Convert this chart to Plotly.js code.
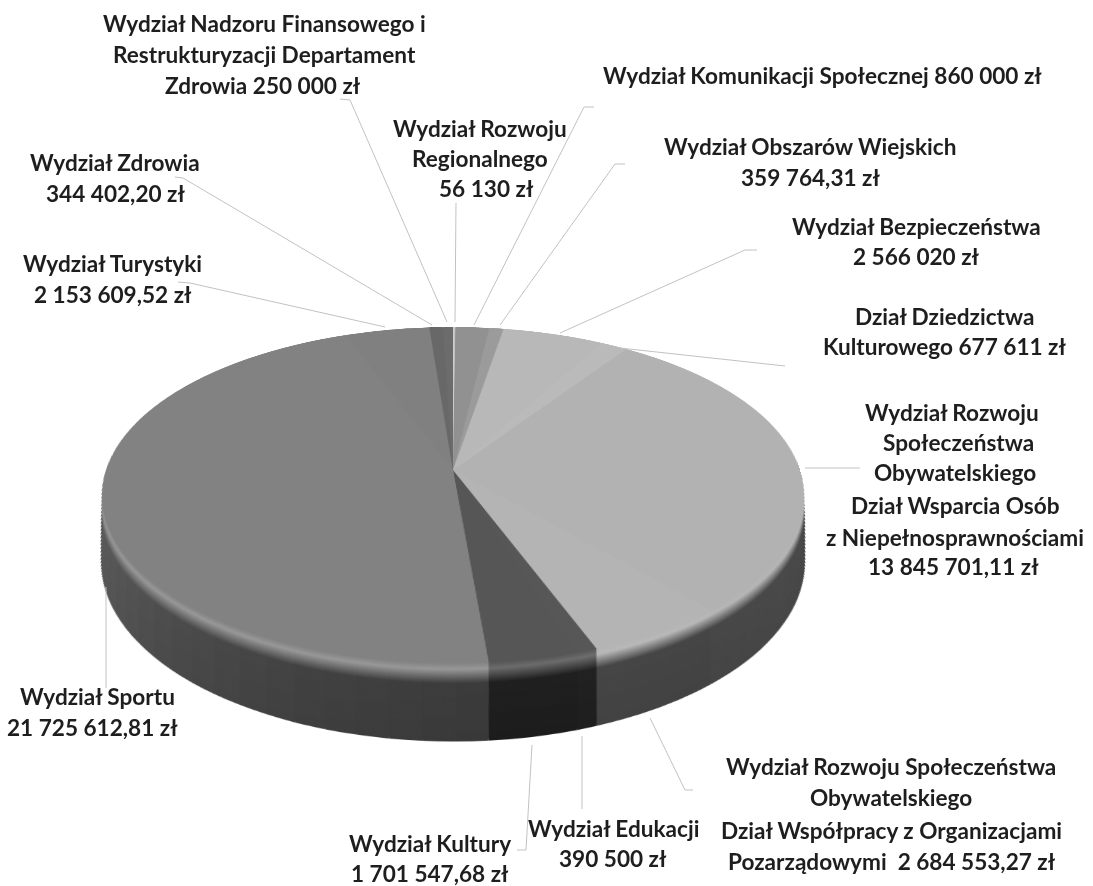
<!DOCTYPE html>
<html>
<head>
<meta charset="utf-8">
<script src="https://cdn.plot.ly/plotly-3.0.1.min.js"></script>
<style>
html,body{margin:0;padding:0;width:1093px;height:886px;overflow:hidden;background:#fff}
#wrap{position:relative;width:1093px;height:886px;overflow:hidden}
#pie{position:absolute;left:-47px;top:-30px;width:1000px;height:1000px;transform-origin:500px 500px;transform:perspective(2036px) rotateX(61.7deg)}
#labels{position:absolute;left:0;top:0;width:1093px;height:886px}
</style>
</head>
<body>
<div id="wrap"><div id="pie"></div><div id="labels"></div></div>
<script>
const departments = ["Wydział Rozwoju Regionalnego","Wydział Komunikacji Społecznej","Wydział Obszarów Wiejskich","Wydział Bezpieczeństwa","Dział Dziedzictwa Kulturowego","Wydział Rozwoju Społeczeństwa Obywatelskiego Dział Wsparcia Osób z Niepełnosprawnościami","Wydział Rozwoju Społeczeństwa Obywatelskiego Dział Współpracy z Organizacjami Pozarządowymi","Wydział Edukacji","Wydział Kultury","Wydział Sportu","Wydział Turystyki","Wydział Zdrowia","Wydział Nadzoru Finansowego i Restrukturyzacji Departament Zdrowia"];
const amounts = [56130,860000,359764.31,2566020,677611,13845701.11,2684553.27,390500,1701547.68,21725612.81,2153609.52,344402.20,250000];
const topGrays = [205,145,155,184,186,178,180,87,86,130,128,104,108];
const rimGrays = [[120],[70],[74],[84],[84],[84,80,78,76,74,72],[70],[34],[32],[60,66,76,88,98,106,108,108],[90],[80],[80]];

const labelLines = [
 ["Wydział Nadzoru Finansowego i",264,23],["Restrukturyzacji Departament",264,54],["Zdrowia 250 000 zł",263,85],
 ["Wydział Zdrowia",115,162],["344 402,20 zł",115,193],
 ["Wydział Turystyki",112,263],["2 153 609,52 zł",113,294],
 ["Wydział Rozwoju",480,128],["Regionalnego",480,158],["56 130 zł",486,188],
 ["Wydział Komunikacji Społecznej 860 000 zł",822,75],
 ["Wydział Obszarów Wiejskich",810,146],["359 764,31 zł",810,177],
 ["Wydział Bezpieczeństwa",916,226],["2 566 020 zł",916,256],
 ["Dział Dziedzictwa",944,316],["Kulturowego 677 611 zł",944,346],
 ["Wydział Rozwoju",952,412],["Społeczeństwa",958,442],["Obywatelskiego",955,472],["Dział Wsparcia Osób",955,505],["z Niepełnosprawnościami",955,537],["13 845 701,11 zł",953,566],
 ["Wydział Rozwoju Społeczeństwa",891,766],["Obywatelskiego",891,797],["Dział Współpracy z Organizacjami",891,830],["Pozarządowymi  2 684 553,27 zł",892,861],
 ["Wydział Edukacji",613,828],["390 500 zł",613,858],
 ["Wydział Kultury",430,843],["1 701 547,68 zł",430,873],
 ["Wydział Sportu",97,696],["21 725 612,81 zł",92,727]
];
const leaders = [
 [[340,99],[350,100],[447,322]],
 [[175,177],[183,178],[432,325]],
 [[178,282],[190,283],[385,327]],
 [[456,203],[455,322]],
 [[594,107],[584,107],[474,325]],
 [[625,164],[615,164],[500,325]],
 [[757,250],[745,250],[560,333]],
 [[620,348],[785,366]],
 [[805,468],[860,468]],
 [[106,587],[106,688]],
 [[532,745],[526,850],[517,850]],
 [[582,736],[582,809]],
 [[650,718],[685,790],[693,790]]
];

// projection constants for the tilted plane
const R = 347, tilt = 61.7*Math.PI/180, persp = 2036, C = 500;
const cosT = Math.cos(tilt), sinT = Math.sin(tilt);
const planeY = yScreen => yScreen/(cosT + yScreen*sinT/persp);
const hex = g => { const v = Math.max(0,Math.min(255,Math.round(g))); return `rgb(${v},${v},${v})`; };

function layerGray(topG, rimG, t){
  const a = 0.08, b = 0.26, hl = topG < 150 ? 22 : 4;
  if (t < a) return topG + hl*t/a;
  if (t < b) return (topG+hl) + (rimG-(topG+hl))*(t-a)/(b-a);
  return rimG - 4*(t-b);
}
// shading steps along the rim of one slice
const SUB = 5;
function rimSteps(anchors){
  if (anchors.length === 1) return anchors.slice();
  const out = [];
  for (let j = 0; j < anchors.length-1; j++)
    for (let s = 0; s < SUB; s++) out.push(anchors[j] + (anchors[j+1]-anchors[j])*s/SUB);
  return out;
}
const LAYERS = 78, RIM_H = 78, FRONT = 193.5;
const traces = [];
for (let k = LAYERS; k >= 1; k--){
  const t = k/LAYERS;
  const r = R - 19*t;
  const dy = planeY(FRONT + RIM_H*t) - r;
  const vals = [], cols = [];
  amounts.forEach((v,i)=>{
    const parts = rimSteps(rimGrays[i]);
    parts.forEach(g=>{ vals.push(v/parts.length); cols.push(hex(layerGray(topGrays[i], g, t))); });
  });
  traces.push({type:'pie',values:vals,sort:false,direction:'clockwise',rotation:0,textinfo:'none',hoverinfo:'skip',showlegend:false,
    marker:{colors:cols,line:{width:0}},
    domain:{x:[(C-r)/1000,(C+r)/1000],y:[(C-dy-r)/1000,(C-dy+r)/1000]}});
}
traces.push({type:'pie',labels:departments,values:amounts,sort:false,direction:'clockwise',rotation:0,textinfo:'none',showlegend:false,
  marker:{colors:topGrays.map(hex),line:{width:0}},
  domain:{x:[(C-R)/1000,(C+R)/1000],y:[(C-R)/1000,(C+R)/1000]}});

Plotly.newPlot('pie',traces,{width:1000,height:1000,margin:{l:0,r:0,t:0,b:0},paper_bgcolor:'rgba(0,0,0,0)',plot_bgcolor:'rgba(0,0,0,0)',showlegend:false},{displayModeBar:false,staticPlot:true});

const hiddenAxis = {visible:false,fixedrange:true};
Plotly.newPlot('labels',
  leaders.map(p=>({type:'scatter',mode:'lines',x:p.map(q=>q[0]),y:p.map(q=>q[1]),line:{color:'#c2c2c2',width:1},hoverinfo:'skip',showlegend:false})),
  {width:1093,height:886,margin:{l:0,r:0,t:0,b:0},paper_bgcolor:'rgba(0,0,0,0)',plot_bgcolor:'rgba(0,0,0,0)',showlegend:false,
   xaxis:{...hiddenAxis,range:[0,1093]},yaxis:{...hiddenAxis,range:[886,0]},
   annotations:labelLines.map(l=>({text:l[0],x:l[1],y:l[2],xref:'x',yref:'y',showarrow:false,xanchor:'center',yanchor:'middle',
     font:{family:'Lato, Carlito, sans-serif',size:22.6,color:'#1e1e1e',weight:700}}))},
  {displayModeBar:false,staticPlot:true});
</script>
</body>
</html>
